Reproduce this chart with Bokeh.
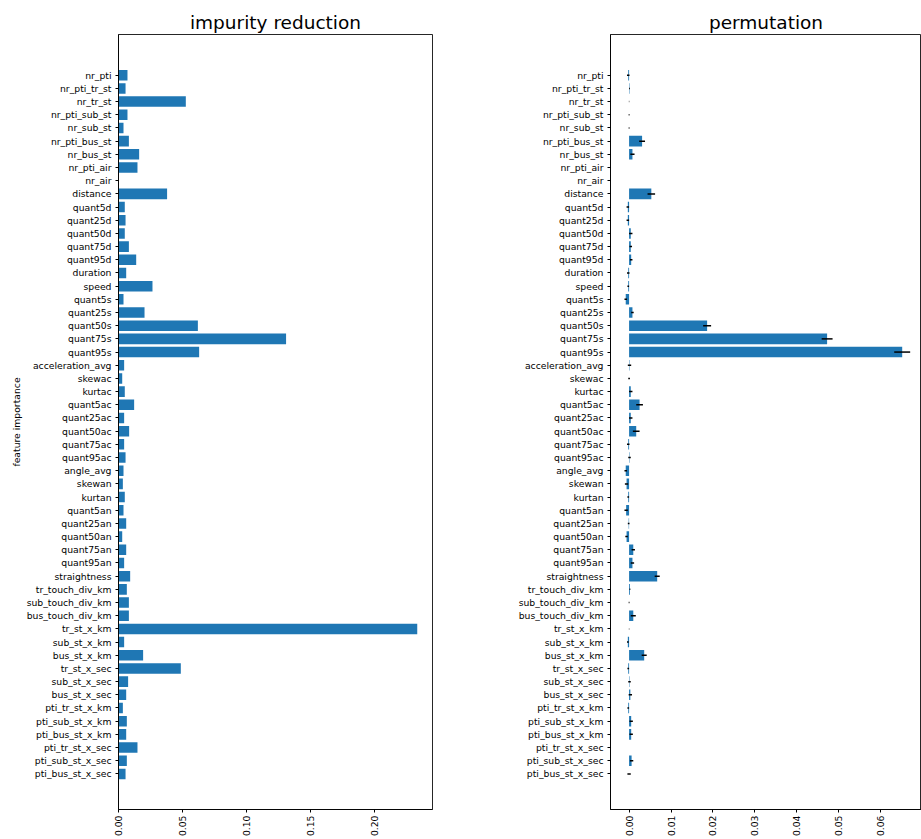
import math
from bokeh.plotting import figure
from bokeh.layouts import row
from bokeh.models import Range1d, FixedTicker, PrintfTickFormatter, ColumnDataSource
from bokeh.embed import file_html
from bokeh.resources import INLINE

features = [
    "nr_pti", "nr_pti_tr_st", "nr_tr_st", "nr_pti_sub_st", "nr_sub_st",
    "nr_pti_bus_st", "nr_bus_st", "nr_pti_air", "nr_air", "distance",
    "quant5d", "quant25d", "quant50d", "quant75d", "quant95d", "duration",
    "speed", "quant5s", "quant25s", "quant50s", "quant75s", "quant95s",
    "acceleration_avg", "skewac", "kurtac", "quant5ac", "quant25ac",
    "quant50ac", "quant75ac", "quant95ac", "angle_avg", "skewan", "kurtan",
    "quant5an", "quant25an", "quant50an", "quant75an", "quant95an",
    "straightness", "tr_touch_div_km", "sub_touch_div_km", "bus_touch_div_km",
    "tr_st_x_km", "sub_st_x_km", "bus_st_x_km", "tr_st_x_sec", "sub_st_x_sec",
    "bus_st_x_sec", "pti_tr_st_x_km", "pti_sub_st_x_km", "pti_bus_st_x_km",
    "pti_tr_st_x_sec", "pti_sub_st_x_sec", "pti_bus_st_x_sec",
]

impurity = [
    0.0070, 0.0055, 0.0525, 0.0070, 0.0039, 0.0081, 0.0161, 0.0148, 0.0, 0.0379,
    0.0049, 0.0055, 0.0049, 0.0081, 0.0138, 0.0060, 0.0265, 0.0039, 0.0203,
    0.0619, 0.1307, 0.0629, 0.0044, 0.0029, 0.0049, 0.0122, 0.0044, 0.0083,
    0.0044, 0.0055, 0.0039, 0.0034, 0.0049, 0.0039, 0.0060, 0.0029, 0.0060,
    0.0044, 0.0091, 0.0065, 0.0081, 0.0081, 0.2330, 0.0044, 0.0192, 0.0486,
    0.0075, 0.0060, 0.0034, 0.0065, 0.0060, 0.0148, 0.0065, 0.0055,
]

perm_mean = [
    -0.0002, 0.0001, 0.0, 0.0, 0.0, 0.0031, 0.0008, 0.0, 0.0, 0.0053,
    -0.0003, -0.0003, 0.0004, 0.0004, 0.0005, -0.0002, -0.0002, -0.0008, 0.0008,
    0.0186, 0.0472, 0.0651, 0.0001, 0.0, 0.0004, 0.0025, 0.0004, 0.0017,
    -0.0002, 0.0001, -0.0008, -0.0006, -0.0002, -0.0007, -0.0001, -0.0006, 0.0010,
    0.0008, 0.0067, 0.0002, 0.0, 0.0010, 0.0, -0.0003, 0.0036, -0.0002,
    0.0001, 0.0003, -0.0002, 0.0005, 0.0005, 0.0, 0.0006, 0.0,
]

perm_std = [
    0.0003, 0.0001, 0.00005, 0.0001, 0.0001, 0.0007, 0.0005, 0.0, 0.0, 0.0009,
    0.0003, 0.0003, 0.0004, 0.0003, 0.0003, 0.0003, 0.0002, 0.0003, 0.0003,
    0.00095, 0.0013, 0.0019, 0.0004, 0.0002, 0.0004, 0.0008, 0.0004, 0.0008,
    0.0003, 0.0003, 0.0003, 0.0004, 0.0002, 0.0004, 0.0002, 0.0003, 0.0004,
    0.0004, 0.0006, 0.0001, 0.0001, 0.0006, 0.00005, 0.0002, 0.0006, 0.0002,
    0.0003, 0.0004, 0.0002, 0.0004, 0.0004, 0.0, 0.0004, 0.0004,
]

left_ticks = [0.0, 0.05, 0.10, 0.15, 0.20]
right_ticks = [0.0, 0.01, 0.02, 0.03, 0.04, 0.05, 0.06, 0.07]

BAR = "#1f77b4"
FONT = "DejaVu Sans"
TICK_SIZE = "9.25px"

ypos = list(range(len(features)))
overrides = {i: f for i, f in enumerate(features)}


def style(p, xticks, title):
    p.title.text = title
    p.title.text_font = FONT
    p.title.text_font_size = "18.5px"
    p.title.text_font_style = "normal"
    p.title.text_color = "black"
    p.title.align = "center"
    p.title.standoff = 4
    p.xgrid.visible = False
    p.ygrid.visible = False
    p.outline_line_color = "black"
    p.outline_line_alpha = 0.85
    p.outline_line_width = 1
    for ax in (p.xaxis[0], p.yaxis[0]):
        ax.axis_line_color = "black"
        ax.axis_line_alpha = 0.85
        ax.major_tick_line_color = "black"
        ax.major_tick_in = 0
        ax.major_tick_out = 3
        ax.minor_tick_line_color = None
        ax.major_label_text_font = FONT
        ax.major_label_text_font_size = TICK_SIZE
        ax.major_label_text_color = "black"
        ax.major_label_standoff = 4
    p.xaxis[0].ticker = FixedTicker(ticks=xticks)
    p.xaxis[0].formatter = PrintfTickFormatter(format="%.2f")
    p.xaxis[0].major_label_orientation = math.pi / 2
    p.xaxis[0].major_label_standoff = 3
    p.yaxis[0].ticker = FixedTicker(ticks=ypos)
    p.yaxis[0].major_label_overrides = overrides


H = 839
y_top = -3.09
y_bottom = 55.7

p1 = figure(width=440, height=H, output_backend="svg", toolbar_location=None,
            x_range=Range1d(0, 0.2449), y_range=Range1d(start=y_bottom, end=y_top),
            min_border_left=118, min_border_right=8, min_border_top=34,
            min_border_bottom=0)
src1 = ColumnDataSource(dict(y=ypos, v=impurity))
p1.hbar(y="y", right="v", left=0, height=0.8, source=src1,
        fill_color=BAR, line_color=None)
style(p1, left_ticks, "impurity reduction")
p1.yaxis[0].axis_label = "feature importance"
p1.yaxis[0].axis_label_text_font = FONT
p1.yaxis[0].axis_label_text_font_size = TICK_SIZE
p1.yaxis[0].axis_label_text_font_style = "normal"
p1.yaxis[0].axis_label_text_color = "black"
p1.yaxis[0].axis_label_standoff = 2

lo = [m - s for m, s in zip(perm_mean, perm_std)]
hi = [m + s for m, s in zip(perm_mean, perm_std)]
p2 = figure(width=481, height=H, output_backend="svg", toolbar_location=None,
            x_range=Range1d(-0.00443, 0.0697), y_range=Range1d(start=y_bottom, end=y_top),
            min_border_left=170, min_border_right=0, min_border_top=34,
            min_border_bottom=0)
src2 = ColumnDataSource(dict(y=ypos, v=perm_mean, lo=lo, hi=hi))
p2.hbar(y="y", right="v", left=0, height=0.8, source=src2,
        fill_color=BAR, line_color=None)
p2.segment(x0="lo", x1="hi", y0="y", y1="y", source=src2,
           line_color="black", line_width=1.5)
style(p2, right_ticks, "permutation")

layout = row(p1, p2)
open("out.html", "w").write(file_html(layout, INLINE))
